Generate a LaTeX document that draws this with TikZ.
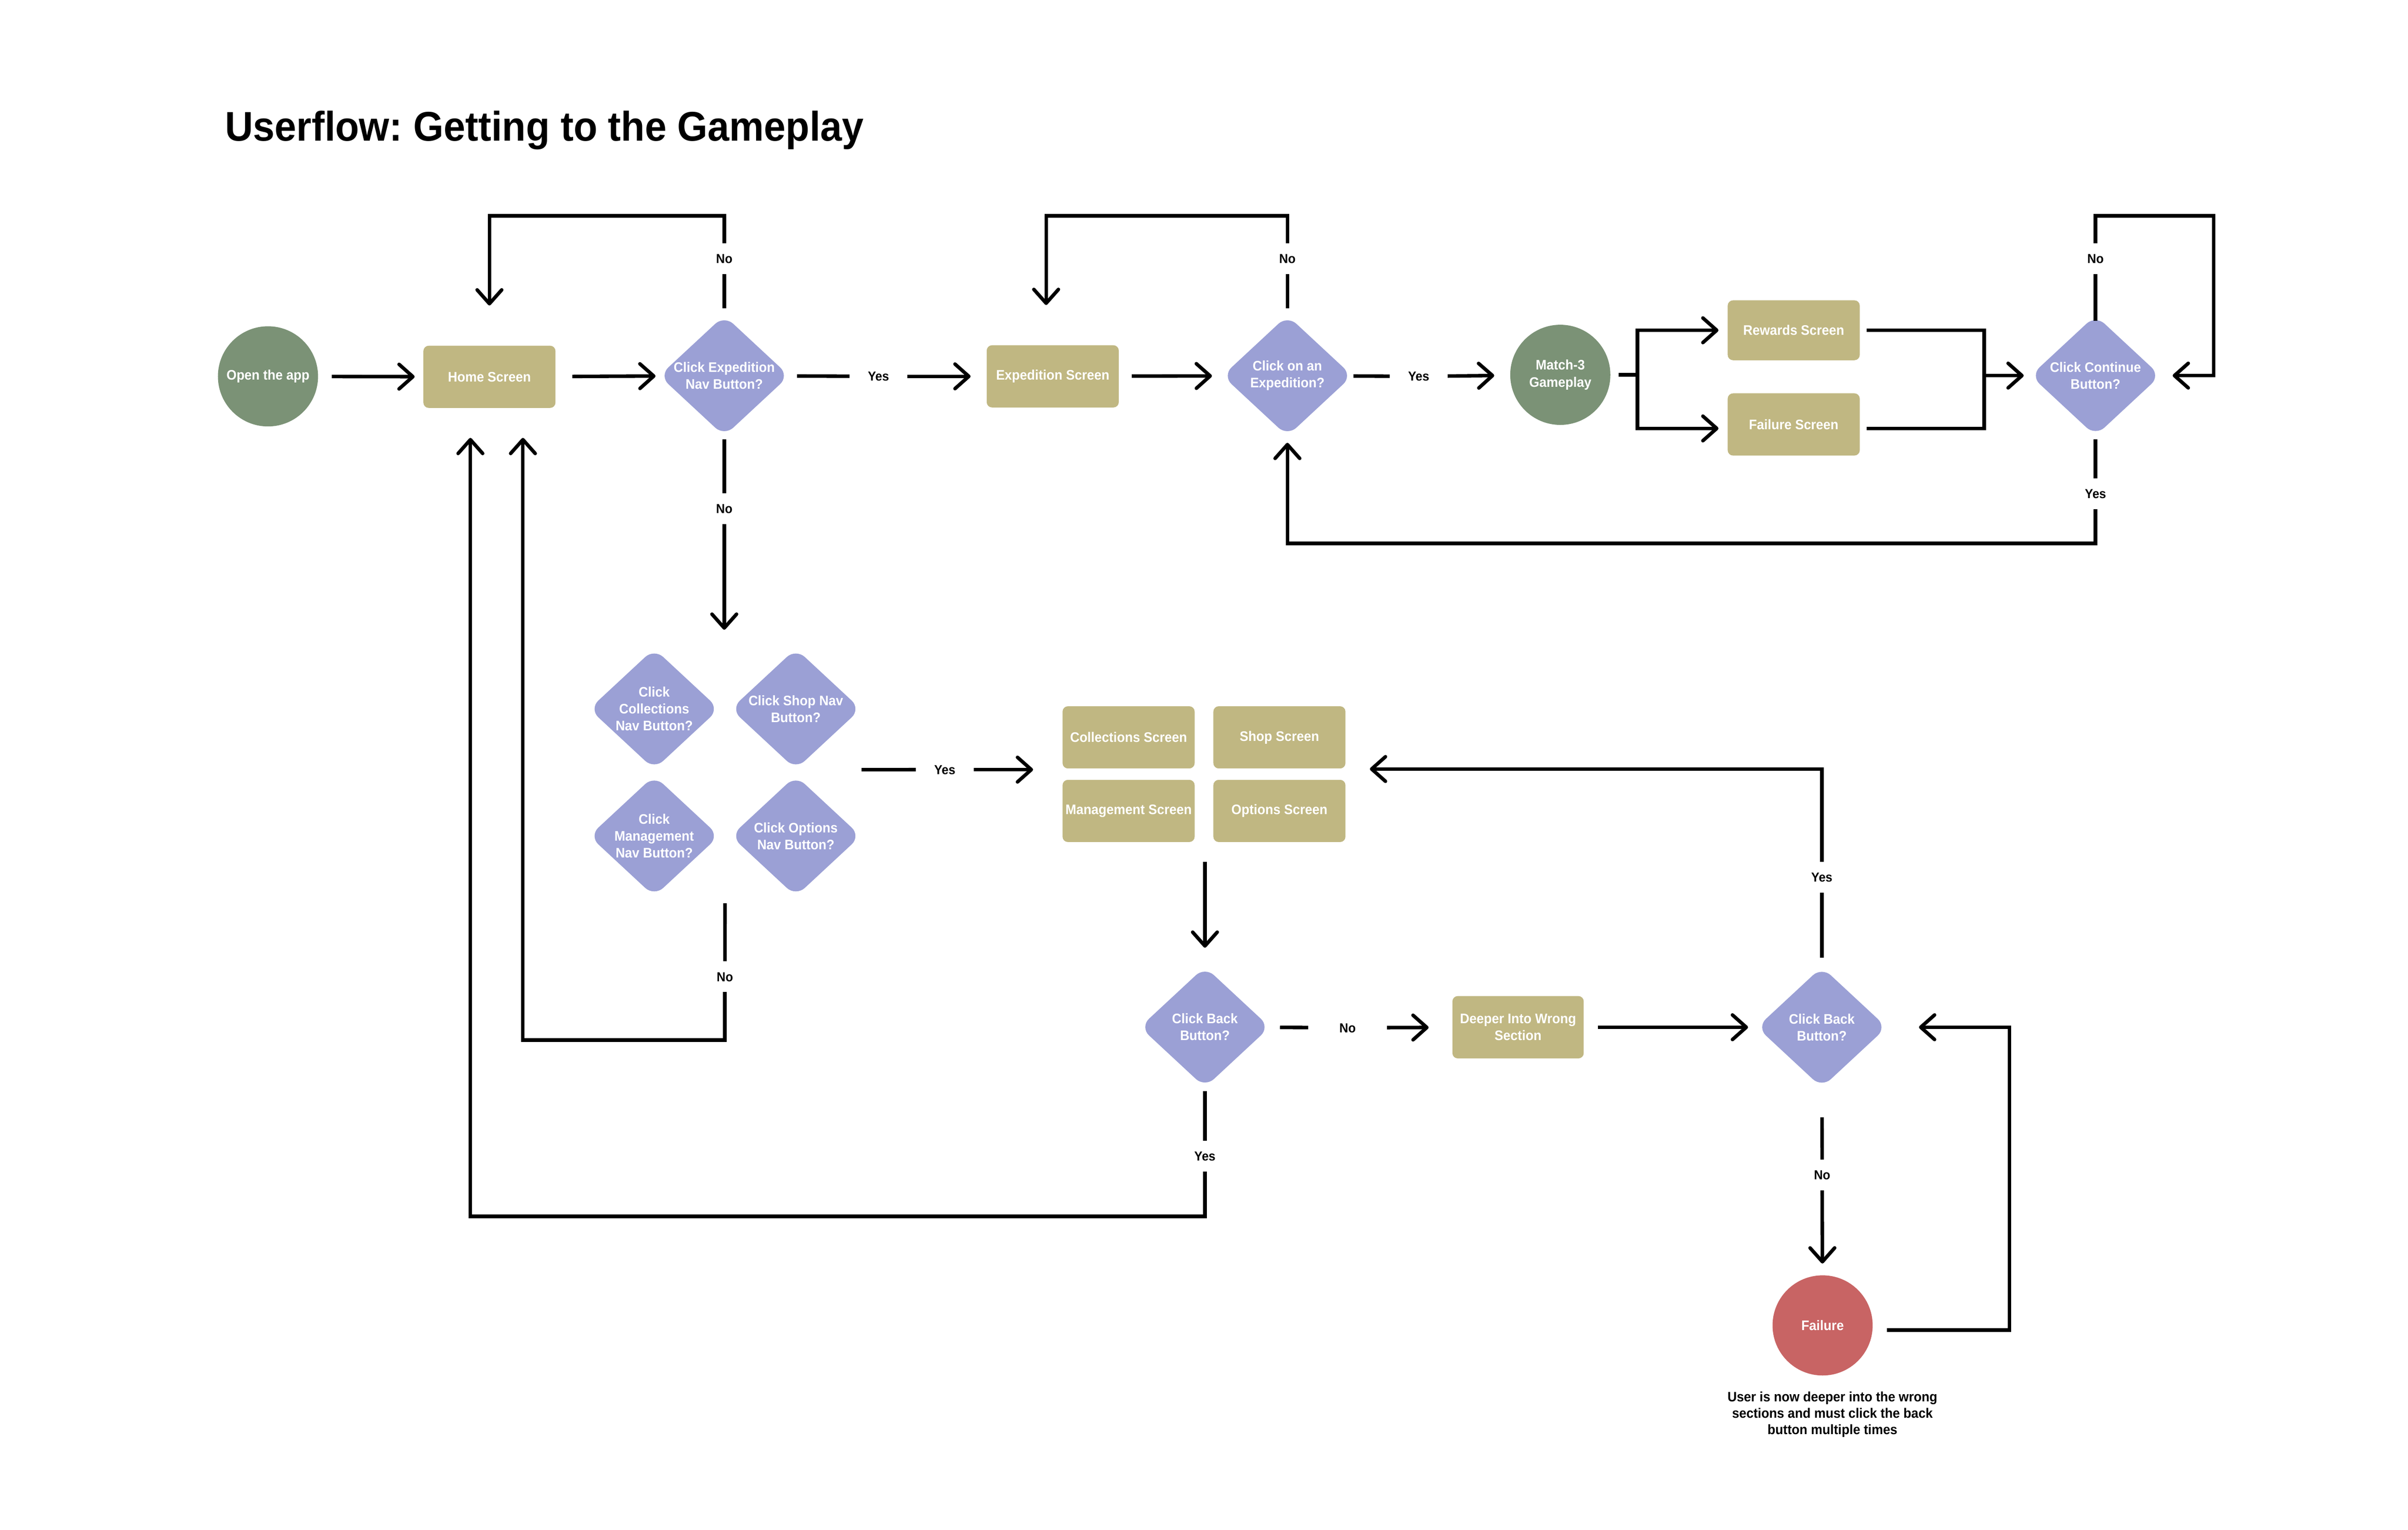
\documentclass[tikz,border=0pt]{standalone}
\usepackage{fontspec}
\setmainfont{Liberation Sans}[FakeStretch=0.94]
\usetikzlibrary{arrows.meta,shapes.geometric,fit,calc}
\definecolor{khaki}{HTML}{C0B782}
\definecolor{lav}{HTML}{9BA0D5}
\definecolor{sage}{HTML}{7B9276}
\definecolor{rosered}{HTML}{C86464}
\newcommand{\nodefont}{\bfseries\fontsize{9}{11}\selectfont}
\newcommand{\lblfont}{\bfseries\fontsize{8.5}{11}\selectfont}
\newcommand{\capfont}{\bfseries\fontsize{8.9}{10.6}\selectfont}
\frenchspacing
\begin{document}
\begin{tikzpicture}[x=1pt,y=-1pt,
  every node/.style={inner sep=0pt, outer sep=0pt},
  screenbox/.style={rectangle, rounded corners=3.5pt, fill=khaki, minimum width=86pt, minimum height=40.5pt, text=white, font=\nodefont, align=center},
  decision/.style={diamond, fill=lav, rounded corners=8pt, minimum width=84.5pt, minimum height=78.5pt, inner sep=0pt},
  dtext/.style={text=white, font=\nodefont, align=center},
  terminal/.style={circle, minimum size=65.2pt, fill=#1, text=white, font=\nodefont, align=center},
  lbl/.style={font=\lblfont, text height=6.1pt, text depth=0pt, inner xsep=12pt, inner ysep=7pt},
  conn/.style={line width=2.3pt},
  arr/.style={line width=2.3pt, -{Straight Barb[length=9pt,width=16pt,round]}},
]
\fill[white] (0,0) rectangle (1568,995.74);
\useasboundingbox (0,0) rectangle (1568,995.74);

% title
\node[anchor=base west, font=\bfseries\fontsize{27}{32}\selectfont] (title) at (146.5,91.7) {Userflow: Getting to the Gameplay};

% row 1
\node[terminal=sage] (open) at (174.5,245) {Open the app};
\node[screenbox] (home) at (318.7,245.3) {Home Screen};
\node[decision] (d1) at (471.6,244.6) {};
\node[dtext] (d1t) at (d1) {Click Expedition\\Nav Button?};
\node[screenbox] (expo) at (685.5,245) {Expedition Screen};
\node[decision] (d2) at (838.3,244.6) {};
\node[dtext] (d2t) at (d2) {Click on an\\Expedition?};
\node[terminal=sage] (m3) at (1016,244) {Match-3\\Gameplay};
\node[screenbox, minimum height=39pt] (rew) at (1168,215) {Rewards Screen};
\node[screenbox] (fail) at (1168,276.3) {Failure Screen};
\node[decision] (d3) at (1364.5,244.5) {};
\node[dtext] (d3t) at (d3) {Click Continue\\Button?};

% grid of decisions
\node[decision] (dc) at (426,461.5) {};
\node[dtext] (dct) at (dc) {Click\\Collections\\Nav Button?};
\node[decision] (ds) at (518.2,461.5) {};
\node[dtext] (dst) at (ds) {Click Shop Nav\\Button?};
\node[decision] (dm) at (426,544.2) {};
\node[dtext] (dmt) at (dm) {Click\\Management\\Nav Button?};
\node[decision] (dO) at (518.2,544.2) {};
\node[dtext] (dOt) at (dO) {Click Options\\Nav Button?};
\node[fit=(dc)(ds)(dm)(dO), inner sep=0pt] (grid) {};

% grid of screens
\node[screenbox] (cs) at (734.9,480) {Collections Screen};
\node[screenbox] (ss) at (833.1,480) {Shop Screen};
\node[screenbox] (ms) at (734.9,527.9) {Management Screen};
\node[screenbox] (os) at (833.1,527.9) {Options Screen};
\node[fit=(cs)(ss)(ms)(os), inner sep=0pt] (scr) {};

% bottom
\node[decision] (db1) at (784.6,668.6) {};
\node[dtext] (db1t) at (db1) {Click Back\\Button?};
\node[screenbox, minimum width=85.5pt, minimum height=40.6pt] (deep) at (988.5,668.7) {Deeper Into Wrong\\Section};
\node[decision] (db2) at (1186.3,668.7) {};
\node[dtext] (db2t) at (db2) {Click Back\\Button?};
\node[terminal=rosered] (fc) at (1186.8,862.8) {Failure};
\node[align=center, font=\capfont, text=black] (cap) at (1193.2,920.8) {User is now deeper into the wrong\\sections and must click the back\\button multiple times};

% labels
\node[lbl] (y1) at (572,245) {Yes};
\node[lbl] (n1) at (471.6,168.3) {No};
\node[lbl] (n2) at (838.3,168.3) {No};
\node[lbl] (y2) at (923.8,245) {Yes};
\node[lbl] (n3) at (1364.5,168.3) {No};
\node[lbl] (y3) at (1364.5,321.3) {Yes};
\node[lbl] (n4) at (471.6,331.2) {No};
\node[lbl] (y4) at (615.2,501) {Yes};
\node[lbl] (n5) at (472,635.8) {No};
\node[lbl, inner xsep=20.3pt] (n6) at (877.5,669) {No};
\node[lbl] (y5) at (784.6,752.6) {Yes};
\node[lbl] (y6) at (1186.3,571) {Yes};
\node[lbl] (n7) at (1186.5,764.9) {No};

% coordinates for corners
\coordinate (c1) at (471.6,140.5);
\coordinate (c2) at (838.3,140.5);
\coordinate (br) at (1066.2,244);
\coordinate (mg) at (1292,244.5);
\coordinate (c3) at (1364.5,140.5);
\coordinate (c4) at (1441.5,140.5);
\coordinate (c5) at (1364.5,353.7);
\coordinate (c6) at (472,677.1);
\coordinate (c7) at (784.6,791.8);
\coordinate (c8) at (1186.3,500.6);
\coordinate (c9) at (1308.5,668.7);

% row 1 connectors
\draw[arr, shorten <=8.9pt, shorten >=5.7pt] (open) -- (home);
\draw[arr, shorten <=11pt, shorten >=2.7pt] (home) -- (d1);
\draw[conn, shorten <=5.3pt] (d1) -- (y1);
\draw[arr, shorten >=10.5pt] (y1) -- (expo);
\draw[conn, shorten <=4.8pt] (d1) -- (n1);
\draw[arr, shorten >=26.2pt] (n1) -- (c1) -| (home);
\draw[arr, shorten <=8.5pt, shorten >=7pt] (expo) -- (d2);
\draw[conn, shorten <=1pt] (d2) -- (y2);
\draw[arr, shorten >=10.4pt] (y2) -- (m3);
\draw[conn, shorten <=4.8pt] (d2) -- (n2);
\draw[arr, shorten >=26.2pt] (n2) -- (c2) -| ([xshift=-4.3pt]expo.north);
\draw[conn, shorten <=5.5pt] (m3) -- (br);
\draw[arr, shorten >=6pt] (br) |- (rew);
\draw[arr, shorten >=6pt] (br) |- ([yshift=-2.6pt]fail.west);
\draw[conn, shorten <=4.5pt] (rew) -| (mg);
\draw[conn, shorten <=4.5pt] ([yshift=-2.6pt]fail.east) -| (mg);
\draw[arr, shorten >=4.5pt] (mg) -- (d3);
\draw[conn, shorten <=-3.5pt] (d3) -- (n3);
\draw[arr, shorten >=8pt] (n3) -- (c3) -- (c4) |- (d3);
\draw[conn, shorten <=2.2pt] (d3) -- (y3);
\draw[arr, shorten >=4.4pt] (y3) -- (c5) -| (d2);

% middle connectors
\draw[conn, shorten <=2.2pt] (d1) -- (n4);
\draw[arr, shorten >=12.3pt] (n4) -- (n4 |- grid.north);
\draw[conn, shorten <=0.5pt] ([yshift=1.8pt]grid.east) -- (y4);
\draw[arr, shorten >=19.2pt] (y4) -- (y4 -| scr.west);
\draw[arr, shorten <=12.8pt, shorten >=12.4pt] (scr.south -| db1) -- (db1);
\draw[conn, shorten <=4.6pt] (grid.south) -- (n5);
\draw[arr, shorten >=19.5pt] (n5) -- (c6) -| ([xshift=21.8pt]home.south);

% bottom connectors
\draw[conn, shorten <=6.8pt] (db1) -- (n6);
\draw[arr, shorten >=15.5pt] (n6) -- (deep);
\draw[conn, shorten <=2.5pt] (db1) -- (y5);
\draw[arr, shorten >=19.5pt] (y5) -- (c7) -| ([xshift=-12.4pt]home.south);
\draw[arr, shorten <=9.2pt, shorten >=5.8pt] (deep) -- (db2);
\draw[conn, shorten <=6pt] (db2) -- (y6);
\draw[arr, shorten >=15.9pt] (y6) -- (c8) -- (c8 -| scr.east);
\draw[conn, shorten <=19.5pt] (db2) -- (n7);
\draw[arr, shorten >=7.7pt] (n7) -- (fc);
\draw[arr, shorten <=9.3pt, shorten >=21pt] ([yshift=-3pt]fc.east) -| (c9) -- (db2);
\end{tikzpicture}
\end{document}
